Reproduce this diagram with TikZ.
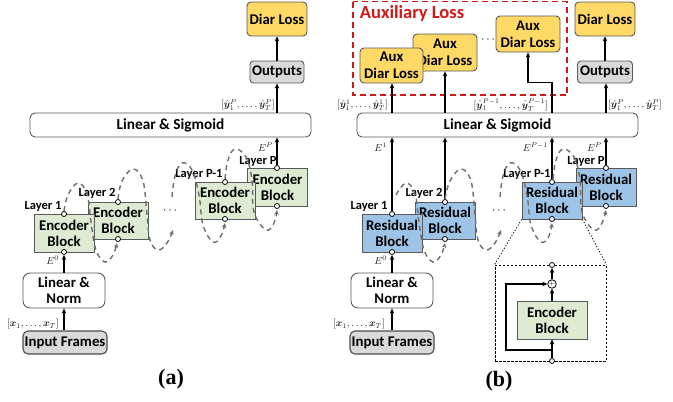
\documentclass[tikz,border=0pt]{standalone}
\usepackage{fontspec}
\setmainfont{Carlito}
\newfontfamily\capfont{Liberation Serif}
\usepackage{bm}
\usetikzlibrary{arrows.meta,calc}
\definecolor{yel}{HTML}{FFD966}
\definecolor{grn}{HTML}{DCEBD2}
\definecolor{blu}{HTML}{9DC3E6}
\definecolor{gry}{HTML}{D9D9D9}
\definecolor{bord}{HTML}{595959}
\definecolor{auxred}{HTML}{D01818}
\definecolor{loopgray}{HTML}{6E6E6E}
\tikzset{
  box/.style={draw=bord, line width=0.9pt, inner sep=0pt, align=center,
    font=\bfseries\fontsize{14.8}{15.8}\selectfont},
  lossbox/.style={box, fill=yel, rounded corners=4pt},
  outbox/.style={box, fill=gry, rounded corners=3.5pt, minimum width=54pt, minimum height=22pt},
  linbox/.style={box, fill=white, rounded corners=5pt, minimum width=281pt, minimum height=24pt, font=\bfseries\fontsize{15.3}{16}\selectfont},
  normbox/.style={box, fill=white, rounded corners=7pt, minimum width=82pt, minimum height=35pt},
  inbox/.style={box, fill=gry, rounded corners=5pt, minimum width=84pt, minimum height=23pt, draw=black!70, line width=1.1pt},
  encbox/.style={box, fill=grn, minimum width=60pt, minimum height=38pt},
  resbox/.style={box, fill=blu, minimum width=60pt, minimum height=38pt},
  port/.style={circle, draw=black, fill=white, line width=0.8pt, minimum size=5pt, inner sep=0pt},
  arr/.style={line width=1.6pt, draw=black, -{Stealth[length=5pt,width=4.5pt]}},
  dloop/.style={draw=loopgray, line width=1.4pt, dash pattern=on 5pt off 4pt,
    -{Stealth[length=5pt,width=4.5pt]}},
  lay/.style={font=\bfseries\fontsize{12.5}{13}\selectfont, inner sep=0pt},
  mlab/.style={font=\fontsize{9.6}{11}\selectfont, inner sep=0pt, text=black!90},
  dotlab/.style={font=\fontsize{12}{12}\selectfont, inner sep=0pt},
  captext/.style={font=\capfont\bfseries\fontsize{22}{24}\selectfont, inner sep=0pt}
}
\begin{document}
\begin{tikzpicture}[x=1pt,y=-1pt]
\useasboundingbox (0,0) rectangle (673,402);

% ================= (a) =================
\node[lossbox, minimum width=60pt, minimum height=34pt] (dlA) at (277,19) {Diar Loss};
\node[outbox] (outA) at (277,72) {Outputs};
\node[linbox] (linA) at (170.5,125) {Linear \& Sigmoid};
\node[encbox] (encP) at (277.5,187) {Encoder\\Block};
\node[encbox, minimum height=37pt] (encPm) at (225,200.5) {Encoder\\Block};
\node[encbox, minimum height=37pt] (enc2) at (118,220.5) {Encoder\\Block};
\node[encbox] (enc1) at (64,233) {Encoder\\Block};
\node[normbox] (lnA) at (64,290.5) {Linear \&\\Norm};
\node[inbox] (inA) at (65,342.5) {Input Frames};

\node[port] (a1t) at (64,214) {};
\node[port] (a1b) at (64,252) {};
\node[port] (a2t) at (118,202) {};
\node[port] (a2b) at (118,239) {};
\node[port] (aPmt) at (225,182) {};
\node[port] (aPmb) at (225,219) {};
\node[port] (aPt) at (277,168) {};
\node[port] (aPb) at (277,206) {};

\draw[arr] (inA.north -| lnA) -- (lnA.south);
\draw[arr] (lnA.north) -- (a1b.south);
\draw[arr] (aPt.north) -- (aPt |- linA.south);
\draw[arr] (aPt |- linA.north) -- (outA.south);
\draw[arr] (outA.north) -- (dlA.south);

\node[mlab, anchor=east] (xa) at (59,324) {$[\bm{x}_1,\dots,\bm{x}_T]$};
\node[mlab, anchor=east] (e0a) at (59,260) {$E^0$};
\node[mlab, anchor=east] (epa) at (273,147) {$E^P$};
\node[mlab, anchor=east] (ya) at (275,105) {$[\hat{\bm{y}}_1^P,\dots,\hat{\bm{y}}_T^P]$};

\node[lay] (la1) at (43,206) {Layer 1};
\node[lay] (la2) at (97,193) {Layer 2};
\node[lay] (laPm) at (199,174) {Layer P-1};
\node[lay] (laP) at (258,161) {Layer P};
\node[dotlab] (dotA) at (170,211) {$\cdots$};

\draw[dloop] plot[smooth, tension=0.65] coordinates {(a1t.north) (68,195) (78,183) (87,194) (91,222) (96,250) (105,262) (113,255) (117,243)};
\draw[dloop] plot[smooth, tension=0.65] coordinates {(a2t.north) (122,181) (133,169) (143,181) (147,215) (150,240) (158,250) (167,243) (173,230)};
\draw[dloop] plot[smooth, tension=0.65] coordinates {(172,197) (175,176) (182,163) (192,170) (199,195) (203,225) (213,242) (221,236) (225,223)};
\draw[dloop] plot[smooth, tension=0.65] coordinates {(aPmt.north) (228,160) (235,149) (246,157) (252,180) (254,212) (266,230) (274,223) (277,210)};

\node[captext] (capA) at (171,379) {(a)};

% ================= (b) =================
\draw[auxred, line width=1.4pt, dash pattern=on 6pt off 4pt] (353,1.5) rectangle (567,95);
\node[font=\bfseries\fontsize{18.5}{20}\selectfont, text=auxred, inner sep=0pt] (auxt) at (412,13) {Auxiliary Loss};
\node[lossbox, minimum width=64pt, minimum height=37pt, font=\bfseries\fontsize{14.8}{16.8}\selectfont] (aux2) at (445,52.5) {Aux\\Diar Loss};
\node[lossbox, minimum width=63pt, minimum height=35pt, font=\bfseries\fontsize{14.8}{16.8}\selectfont] (aux1) at (391.5,65.5) {Aux\\Diar Loss};
\node[lossbox, minimum width=64pt, minimum height=36pt, font=\bfseries\fontsize{14.8}{16.8}\selectfont] (aux3) at (528,34) {Aux\\Diar Loss};
\node[dotlab] (dotAux) at (488,40) {$\cdots$};

\node[lossbox, minimum width=60pt, minimum height=34pt] (dlB) at (605,19) {Diar Loss};
\node[outbox, minimum width=55pt] (outB) at (605,72) {Outputs};
\node[linbox] (linB) at (497.5,125) {Linear \& Sigmoid};
\node[resbox] (resP) at (606,187) {Residual\\Block};
\node[resbox, minimum height=37pt] (resPm) at (552,200.5) {Residual\\Block};
\node[resbox, minimum height=37pt] (res2) at (445,220.5) {Residual\\Block};
\node[resbox] (res1) at (392,233) {Residual\\Block};
\node[normbox] (lnB) at (392,290.5) {Linear \&\\Norm};
\node[inbox] (inB) at (392,342.5) {Input Frames};

\node[port] (b1t) at (392,214) {};
\node[port] (b1b) at (392,252) {};
\node[port] (b2t) at (445,202) {};
\node[port] (b2b) at (445,239) {};
\node[port] (bPmt) at (552,182) {};
\node[port] (bPmb) at (552,219) {};
\node[port] (bPt) at (606,168) {};
\node[port] (bPb) at (606,206) {};

\draw[arr] (inB.north) -- (lnB.south);
\draw[arr] (lnB.north) -- (b1b.south);
\draw[arr] (b1t.north) -- (b1t |- linB.south);
\draw[arr] (b2t.north) -- (b2t |- linB.south);
\draw[arr] (bPmt.north) -- (bPmt |- linB.south);
\draw[arr] (bPt.north) -- (bPt |- linB.south);
\draw[arr] (b1t |- linB.north) -- (b1t |- aux1.south);
\draw[arr] (b2t |- linB.north) -- (b2t |- aux2.south);
\draw[arr] (bPmt |- linB.north) -- ++(0,-30) -| (aux3.south);
\draw[arr] (bPt |- linB.north) -- (bPt |- outB.south);
\draw[arr] (outB.north) -- (dlB.south);

\node[mlab, anchor=east] (xb) at (385,324) {$[\bm{x}_1,\dots,\bm{x}_T]$};
\node[mlab, anchor=east] (e0b) at (387,260) {$E^0$};
\node[mlab, anchor=east] (e1b) at (387,147) {$E^1$};
\node[mlab, anchor=east] (epmb) at (548,147) {$E^{P-1}$};
\node[mlab, anchor=east] (epb) at (602,147) {$E^P$};
\node[mlab, anchor=east] (y1b) at (388,105) {$[\hat{\bm{y}}_1^1,\dots,\hat{\bm{y}}_T^1]$};
\node[mlab, anchor=east] (ypmb) at (548,105) {$[\hat{\bm{y}}_1^{P-1},\dots,\hat{\bm{y}}_T^{P-1}]$};
\node[mlab, anchor=west] (ypb) at (608,105) {$[\hat{\bm{y}}_1^P,\dots,\hat{\bm{y}}_T^P]$};

\node[lay] (lb1) at (369,206) {Layer 1};
\node[lay] (lb2) at (424,193) {Layer 2};
\node[lay] (lbPm) at (527,174) {Layer P-1};
\node[lay] (lbP) at (586,161) {Layer P};
\node[dotlab] (dotB) at (499,211) {$\cdots$};

\begin{scope}[xshift=328pt]
\draw[dloop] plot[smooth, tension=0.65] coordinates {(68,195) (78,183) (87,194) (91,222) (96,250) (105,262) (113,255) (117,243)};
\draw[dloop] plot[smooth, tension=0.65] coordinates {(117,199) (122,181) (133,169) (143,181) (147,215) (150,240) (158,250) (167,243) (173,230)};
\draw[dloop] plot[smooth, tension=0.65] coordinates {(172,197) (175,176) (182,163) (192,170) (199,195) (203,225) (213,242) (221,236) (224,223)};
\draw[dloop] plot[smooth, tension=0.65] coordinates {(225,179) (228,160) (235,149) (246,157) (252,180) (254,212) (266,230) (274,223) (278,210)};
\end{scope}

% inset
\node[draw=black, line width=0.8pt, dash pattern=on 2.5pt off 1.5pt, minimum width=111pt, minimum height=96pt, inner sep=0pt] (inset) at (550.5,313) {};
\draw[line width=0.8pt, dash pattern=on 1.2pt off 1.8pt] (resPm.south west) -- (inset.north west);
\draw[line width=0.8pt, dash pattern=on 1.2pt off 1.8pt] (resPm.south east) -- (inset.north east);
\node[encbox, minimum width=70pt] (encI) at (552,320) {Encoder\\Block};
\node[port] (iTop) at (552,265) {};
\node[port] (iBot) at (552,361) {};
\node[circle, draw=black, fill=white, line width=0.8pt, minimum size=8.5pt, inner sep=0pt, font=\fontsize{7}{7}\selectfont] (plus) at (552,284) {$+$};
\draw[arr] (iBot.north) -- (encI.south);
\draw[arr] (encI.north) -- (plus.south);
\draw[arr] (plus.north) -- (iTop.south);
\draw[arr] (552,350) -| (506,284) -- (plus.west);

\node[captext] (capB) at (499,381) {(b)};
\end{tikzpicture}
\end{document}
